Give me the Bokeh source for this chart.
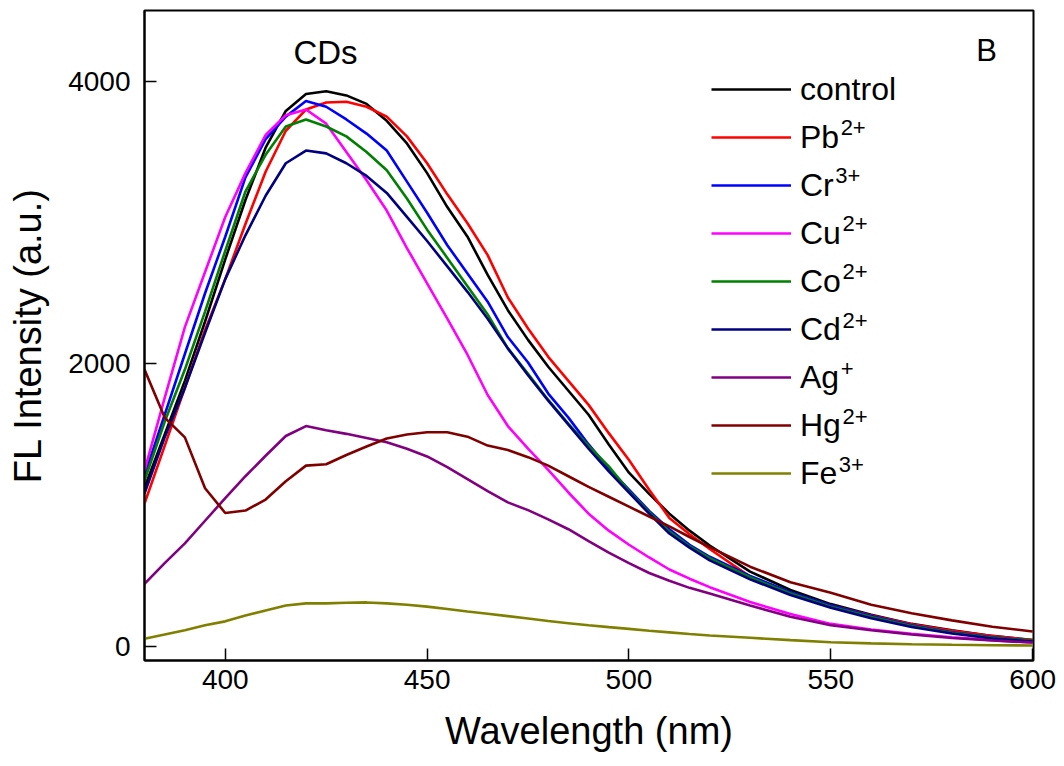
from bokeh.plotting import figure
from bokeh.models import Legend, LegendItem, Label, FixedTicker, Range1d
from bokeh.embed import file_html
from bokeh.resources import INLINE

# ---------------- data ----------------
wavelength = [380, 385, 390, 395, 400, 405, 410, 415, 420, 425, 430, 435, 440,
              445, 450, 455, 460, 465, 470, 475, 480, 485, 490, 495, 500, 505,
              510, 515, 520, 530, 540, 550, 560, 570, 580, 590, 600]

control = [1125, 1500, 1880, 2300, 2740, 3160, 3530, 3790, 3910, 3930, 3900, 3840, 3720,
           3560, 3350, 3110, 2900, 2630, 2380, 2170, 1980, 1810, 1640, 1430, 1230, 1080,
           940, 820, 715, 530, 400, 300, 225, 160, 115, 75, 45]
pb = [1012, 1420, 1830, 2240, 2600, 2990, 3360, 3650, 3800, 3850, 3855, 3820, 3750,
      3610, 3420, 3200, 2995, 2770, 2470, 2250, 2050, 1880, 1710, 1510, 1320, 1110,
      910, 795, 690, 495, 380, 290, 220, 158, 112, 74, 45]
cr = [1210, 1640, 2070, 2500, 2900, 3320, 3590, 3750, 3860, 3820, 3730, 3630, 3510,
      3290, 3070, 2840, 2640, 2440, 2190, 2010, 1790, 1620, 1430, 1260, 1110, 960,
      830, 720, 635, 500, 385, 290, 215, 150, 100, 65, 40]
cu = [1245, 1760, 2260, 2650, 3040, 3350, 3620, 3760, 3800, 3700, 3500, 3300, 3085,
      2820, 2570, 2320, 2065, 1780, 1560, 1400, 1250, 1090, 940, 820, 720, 630,
      545, 480, 420, 315, 230, 160, 120, 90, 65, 45, 28]
co = [1175, 1590, 1960, 2370, 2800, 3220, 3480, 3680, 3730, 3680, 3610, 3500, 3370,
      3170, 2950, 2750, 2550, 2350, 2110, 1930, 1745, 1575, 1420, 1275, 1100, 950,
      815, 710, 625, 490, 375, 282, 208, 145, 97, 62, 40]
cd = [1083, 1480, 1830, 2220, 2600, 2910, 3190, 3420, 3510, 3490, 3420, 3330, 3210,
      3040, 2870, 2690, 2510, 2320, 2110, 1920, 1740, 1570, 1400, 1240, 1090, 940,
      800, 700, 610, 475, 365, 275, 200, 138, 92, 57, 36]
ag = [444, 590, 730, 890, 1050, 1205, 1350, 1490, 1560, 1530, 1505, 1475, 1445,
      1400, 1345, 1270, 1185, 1100, 1020, 965, 900, 830, 745, 665, 590, 520,
      465, 415, 375, 290, 210, 150, 115, 85, 60, 42, 28]
hg = [1960, 1620, 1480, 1120, 945, 962, 1040, 1170, 1280, 1290, 1355, 1415, 1472,
      1500, 1516, 1516, 1485, 1422, 1390, 1340, 1280, 1205, 1130, 1060, 990, 920,
      850, 775, 703, 565, 455, 380, 295, 235, 185, 140, 106]
fe = [55, 85, 115, 150, 178, 220, 255, 290, 305, 305, 310, 312, 305,
      295, 282, 265, 248, 232, 215, 198, 180, 165, 150, 137, 125, 112,
      100, 88, 78, 62, 45, 30, 22, 16, 12, 9, 7]

series_names = ["control", "Pb", "Cr", "Cu", "Co", "Cd", "Ag", "Hg", "Fe"]
series_sup = ["", "2+", "3+", "2+", "2+", "2+", "+", "2+", "3+"]
series_values = [control, pb, cr, cu, co, cd, ag, hg, fe]
series_colors = ["#000000", "#ff0000", "#0000ff", "#ff00ff", "#008000",
                 "#000080", "#800080", "#800000", "#808000"]

x_ticks = [400, 450, 500, 550, 600]
y_ticks = [0, 2000, 4000]

# ---------------- figure ----------------
FONT = "Liberation Sans"
X0, X1 = 380, 600.2
Y0, Y1 = -99, 4501

p = figure(width=1064, height=766, output_backend="svg", toolbar_location=None,
           x_range=Range1d(X0, X1), y_range=Range1d(Y0, Y1),
           min_border_left=144, min_border_right=31, min_border_top=10,
           min_border_bottom=106)
p.background_fill_color = "white"
p.border_fill_color = "white"
p.xgrid.visible = False
p.ygrid.visible = False
p.outline_line_color = "black"
p.outline_line_width = 2

for ax in (p.xaxis[0], p.yaxis[0]):
    ax.axis_line_width = 2
    ax.axis_line_color = "black"
    ax.major_tick_in = 12
    ax.major_tick_out = 0
    ax.major_tick_line_width = 1.5
    ax.minor_tick_in = 0
    ax.minor_tick_out = 0
    ax.major_label_text_font = FONT
    ax.major_label_text_font_size = "28px"
    ax.major_label_text_color = "black"
    ax.axis_label_text_font = FONT
    ax.axis_label_text_font_style = "normal"
    ax.axis_label_text_font_size = "38px"
    ax.axis_label_text_color = "black"

p.xaxis.ticker = FixedTicker(ticks=x_ticks)
p.yaxis.ticker = FixedTicker(ticks=y_ticks)
p.xaxis.major_label_standoff = 9
p.yaxis.major_label_standoff = 14
p.xaxis.axis_label = "Wavelength (nm)"
p.yaxis.axis_label = "FL Intensity (a.u.)"
p.xaxis.axis_label_standoff = 18
p.yaxis.axis_label_standoff = 16

renderers = []
for vals, col in zip(series_values, series_colors):
    r = p.line(wavelength, vals, line_color=col, line_width=2.6)
    renderers.append(r)

LEG_FS = 32
legend = Legend(items=[LegendItem(label=n, renderers=[r]) for n, r in zip(series_names, renderers)],
                location=(567, 163), glyph_width=80, glyph_height=48, label_height=48,
                label_standoff=9, spacing=0, padding=0, margin=0,
                border_line_color=None, background_fill_alpha=0,
                label_text_font=FONT, label_text_font_size=f"{LEG_FS}px",
                label_text_color="black")
p.add_layout(legend)

# helpers to place annotations (pixel position inside the 1064x766 page -> data)
FL, FW, FT, FH = 144, 889, 10, 650
def dx(px):
    return X0 + (px - FL) / FW * (X1 - X0)
def dy(py):
    return Y1 - (py - FT) / FH * (Y1 - Y0)

base_widths = {"Pb": 1.223, "Cr": 1.055, "Cu": 1.278, "Co": 1.278, "Cd": 1.278,
               "Ag": 1.223, "Hg": 1.278, "Fe": 1.167}
for i, (n, s) in enumerate(zip(series_names, series_sup)):
    if not s:
        continue
    row_y = 88 + 48.1 * i
    sx = 800 + base_widths[n] * LEG_FS + 1
    p.add_layout(Label(x=dx(sx), y=dy(row_y - 9), text=s, text_font=FONT,
                       text_font_size="22px", text_baseline="middle",
                       text_align="left", text_color="black"))

p.add_layout(Label(x=dx(325), y=dy(52), text="CDs", text_font=FONT, text_font_size="33px",
                   text_align="center", text_baseline="middle", text_color="black"))
p.add_layout(Label(x=dx(986), y=dy(50), text="B", text_font=FONT, text_font_size="31px",
                   text_align="center", text_baseline="middle", text_color="black"))

open("out.html", "w").write(file_html(p, INLINE))
